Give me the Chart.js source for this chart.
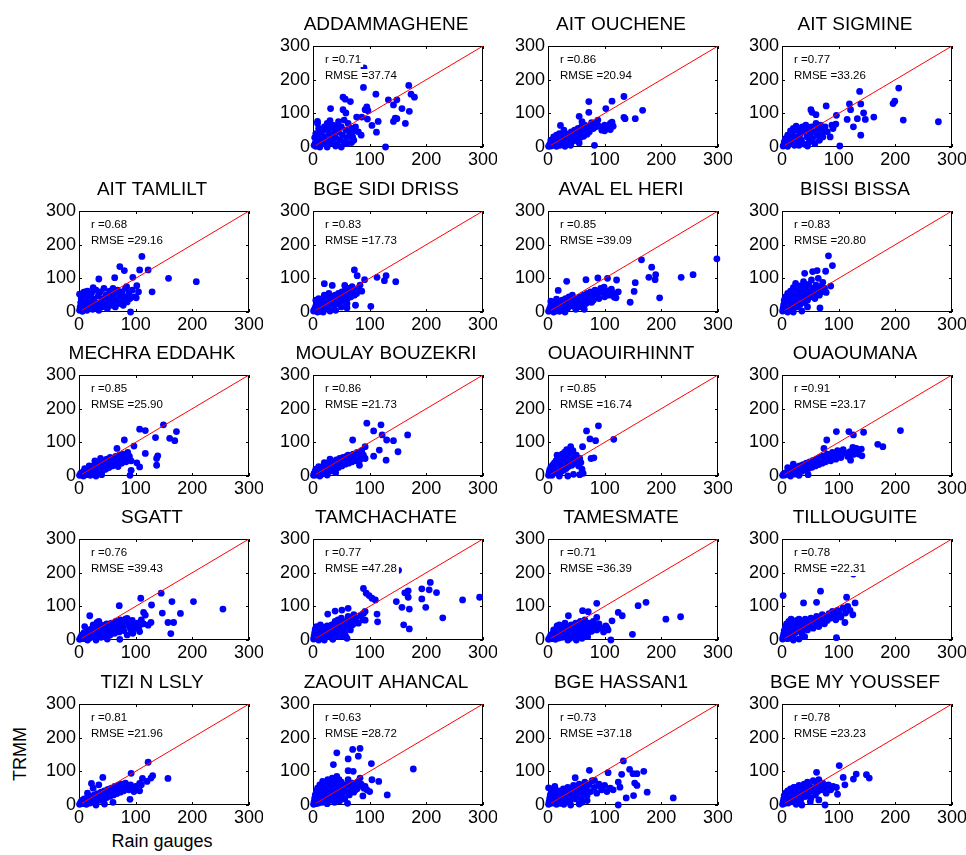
<!DOCTYPE html>
<html>
<head>
<meta charset="utf-8">
<title>TRMM vs rain gauges</title>
<script src="https://cdn.jsdelivr.net/npm/chart.js@4.4.1/dist/chart.umd.min.js"></script>
<style>
  body { margin: 0; background: #fff; width: 966px; height: 855px; position: relative; overflow: hidden;
         font-family: "Liberation Sans", Arial, Helvetica, sans-serif; }
  canvas { position: absolute; }
  .axis-title { position: absolute; font-size: 18px; line-height: 20px; color: #000; text-align: center; }
</style>
</head>
<body>
<div class="axis-title" style="left:-30px; top:744px; width:100px; transform:rotate(-90deg);">TRMM</div>
<div class="axis-title" style="left:62px; top:831px; width:200px;">Rain gauges</div>
<script>
// [rain gauge, TRMM] pairs per station
const ADDAMMAGHENE = [[2,5],[4,12],[6,20],[3,28],[8,35],[5,2],[10,8],[12,15],[15,25],[18,10],[20,30],[22,18],[25,5],[28,40],[30,22],[32,12],[35,35],[38,50],[40,28],[42,8],[45,45],[48,20],[50,60],[52,35],[55,15],[58,50],[60,28],[62,70],[65,40],[68,55],[70,30],[35,65],[25,70],[15,45],[10,55],[45,75],[55,80],[30,78],[20,60],[8,70],[72,20],[40,3],[12,0],[25,0],[60,10],[75,60],[80,45],[85,35],[50,0],[18,50],[5,40],[35,20],[28,55],[42,62],
  [90,235],[89,177],[169,183],[173,157],[179,148],[111,157],[53,148],[57,142],[66,135],[133,140],[148,140],[142,125],[31,114],[95,119],[97,108],[92,111],[157,114],[170,106],[145,86],[142,76],[148,84],[163,70],[115,76],[112,44],[128,0],[68,13],[77,89],[86,89],[96,83],[104,64],[71,47],[53,111],[58,101],[8,76]];
const AIT_OUCHENE = [[1,2],[3,8],[5,3],[7,12],[9,5],[11,18],[13,8],[15,2],[17,22],[19,12],[21,5],[23,28],[25,15],[27,8],[29,32],[31,20],[33,10],[35,38],[37,25],[39,15],[41,45],[43,30],[45,18],[47,50],[49,35],[51,22],[53,55],[55,40],[57,28],[59,60],[61,45],[63,32],[65,65],[67,50],[69,38],[71,58],[73,45],[20,40],[28,50],[10,30],[5,20],[15,35],[40,5],[30,2],[55,12],[75,65],[80,55],[85,70],[90,62],[95,50],[100,65],[105,58],[110,70],[115,62],[100,48],[88,80],[60,75],
  [134,150],[113,136],[72,135],[72,103],[102,114],[167,109],[134,88],[154,84],[136,84],[113,74],[110,52],[82,5],[55,91],[77,72],[84,60],[22,64]];
const AIT_SIGMINE = [[2,3],[4,15],[6,25],[8,8],[10,2],[12,18],[14,30],[16,10],[18,40],[20,22],[22,5],[24,50],[26,30],[28,15],[30,55],[32,38],[34,20],[36,60],[38,45],[40,8],[42,65],[44,30],[46,50],[48,15],[50,40],[52,60],[54,25],[56,45],[58,10],[60,70],[62,35],[64,55],[66,20],[68,65],[70,40],[72,30],[74,50],[76,60],[80,45],[85,30],[88,65],[90,55],[95,68],[30,5],[20,55],[10,35],[45,3],[35,12],[25,62],[15,48],[5,8],
  [137,165],[206,175],[199,136],[196,129],[78,122],[119,128],[121,111],[139,128],[144,101],[147,82],[162,89],[115,82],[133,84],[126,60],[139,35],[102,3],[214,80],[276,75],[51,111],[53,103],[60,96],[96,94],[91,64]];
const AIT_TAMLILT = [[1,5],[2,15],[3,28],[4,40],[5,50],[6,2],[8,10],[10,22],[12,35],[14,5],[16,45],[18,15],[20,28],[22,55],[24,8],[26,38],[28,20],[30,65],[32,10],[34,48],[36,28],[38,60],[40,15],[42,40],[44,70],[46,25],[48,50],[50,10],[52,35],[54,62],[56,20],[58,45],[60,30],[62,55],[64,15],[66,40],[68,65],[70,25],[72,50],[74,35],[76,60],[78,20],[80,45],[82,70],[85,30],[88,55],[90,40],[94,65],[98,45],[102,78],[105,60],[15,62],[8,58],[25,72],[35,5],
  [111,165],[72,135],[80,123],[35,98],[63,102],[95,103],[107,125],[122,125],[158,100],[207,90],[129,60],[101,42],[91,0],[60,70],[84,75],[10,60],[1,53]];
const BGE_SIDI_DRISS = [[1,3],[3,10],[5,18],[7,5],[9,25],[11,12],[13,2],[15,30],[17,18],[19,8],[21,35],[23,22],[25,12],[27,40],[29,28],[31,15],[33,45],[35,32],[37,20],[39,50],[41,38],[43,25],[45,55],[47,42],[49,30],[51,60],[53,45],[55,35],[57,65],[59,50],[61,40],[63,70],[65,55],[67,45],[69,75],[71,60],[73,50],[75,65],[77,55],[80,70],[83,80],[86,62],[10,40],[20,50],[28,55],[5,35],[40,5],[30,3],[50,15],[60,25],[18,0],[8,0],
  [73,125],[78,108],[113,103],[129,108],[126,93],[146,90],[91,96],[34,79],[56,79],[75,20],[102,17],[60,12],[20,84]];
const AVAL_EL_HERI = [[1,2],[3,10],[5,20],[7,5],[9,28],[11,12],[13,3],[15,22],[17,8],[19,30],[21,15],[23,5],[25,35],[27,20],[29,10],[31,40],[33,25],[35,12],[37,45],[39,30],[41,18],[43,50],[45,35],[47,22],[49,8],[51,40],[53,28],[55,15],[57,45],[59,32],[61,20],[63,50],[65,38],[67,25],[69,55],[71,42],[73,30],[75,60],[78,48],[80,35],[83,65],[86,52],[90,40],[93,70],[96,58],[100,45],[104,62],[108,50],[112,68],[116,55],[120,42],[124,60],[10,0],[20,2],[30,0],[5,32],[15,38],
  [298,158],[165,155],[183,133],[190,111],[189,96],[178,103],[235,103],[256,111],[197,42],[154,87],[152,61],[145,29],[121,95],[105,100],[88,101],[67,96],[33,91],[18,64],[99,74],[110,64],[117,44],[88,54],[77,29],[64,8]];
const BISSI_BISSA = [[1,3],[2,12],[3,22],[4,35],[5,5],[6,45],[8,15],[9,28],[10,55],[11,8],[12,40],[14,20],[15,62],[16,32],[18,10],[19,50],[20,72],[22,25],[23,42],[24,85],[26,15],[27,58],[28,35],[30,68],[31,48],[32,22],[34,78],[35,55],[36,40],[38,90],[39,62],[40,28],[42,72],[44,50],[45,35],[47,82],[48,60],[50,45],[52,95],[54,70],[56,55],[58,40],[60,80],[62,65],[64,100],[66,50],[68,75],[70,60],[72,88],[75,70],[78,58],[20,0],[10,0],[35,3],[45,15],
  [82,167],[89,138],[77,121],[62,123],[54,120],[40,115],[86,77],[67,12]];
const MECHRA_EDDAHK = [[1,2],[3,8],[5,3],[7,12],[9,6],[11,16],[13,4],[15,20],[17,10],[19,25],[21,14],[23,5],[25,30],[27,18],[29,8],[31,35],[33,22],[35,12],[37,40],[39,28],[41,15],[43,45],[45,32],[47,20],[49,50],[51,38],[53,25],[55,55],[57,42],[59,30],[61,48],[63,35],[65,58],[67,45],[69,28],[71,62],[73,50],[75,38],[78,65],[80,55],[83,42],[86,70],[89,58],[92,45],[10,22],[18,30],[28,45],[38,52],[20,2],[30,0],[8,0],
  [149,152],[107,139],[117,135],[172,132],[160,112],[169,105],[135,114],[80,107],[97,89],[67,82],[117,67],[139,60],[137,52],[137,32],[107,27],[92,17],[102,39],[90,2],[40,4]];
const MOULAY_BOUZEKRI = [[1,2],[2,8],[4,14],[5,3],[7,18],[9,8],[11,22],[13,12],[15,5],[17,28],[19,16],[21,8],[23,32],[25,20],[27,12],[29,38],[31,25],[33,15],[35,42],[37,30],[39,20],[41,48],[43,35],[45,25],[47,52],[49,40],[51,30],[53,55],[55,45],[57,35],[59,58],[61,48],[63,38],[65,60],[67,52],[69,42],[71,65],[73,55],[75,45],[78,70],[80,58],[83,48],[86,75],[89,62],[92,52],[10,28],[20,40],[30,50],[5,20],[40,10],[25,3],[12,0],
  [95,157],[120,152],[107,134],[167,122],[122,122],[130,107],[142,105],[70,107],[92,87],[117,77],[150,72],[107,59],[129,47],[82,32],[62,62]];
const OUAOUIRHINNT = [[1,2],[2,10],[3,18],[4,4],[5,26],[6,12],[7,2],[8,32],[9,18],[10,8],[11,38],[12,24],[13,12],[14,45],[15,30],[16,16],[17,52],[18,36],[19,22],[20,8],[21,58],[22,42],[23,28],[24,14],[25,65],[26,48],[27,32],[28,18],[29,70],[30,55],[31,38],[32,22],[33,78],[34,60],[35,42],[36,28],[38,68],[40,48],[42,32],[44,75],[46,55],[48,38],[50,62],[52,45],[54,30],[56,52],[58,40],[60,20],[62,8],[45,5],[35,0],[20,0],
  [89,149],[68,134],[74,110],[116,109],[40,87],[61,87],[76,52],[81,54],[16,62],[56,4],[84,105]];
const OUAOUMANA = [[1,2],[3,6],[5,3],[7,10],[9,5],[11,14],[13,8],[15,18],[17,10],[19,22],[21,14],[23,6],[25,26],[27,18],[29,10],[31,30],[33,22],[35,14],[37,34],[39,26],[41,18],[43,38],[45,30],[47,22],[49,42],[51,34],[53,26],[55,46],[57,38],[59,30],[61,50],[63,42],[65,34],[67,55],[69,46],[71,38],[73,60],[75,50],[77,42],[80,65],[83,55],[86,45],[89,70],[92,60],[95,50],[98,75],[101,65],[104,55],[108,78],[112,68],[116,58],[120,72],[125,85],[130,75],[135,65],[140,80],[10,25],[20,35],[15,0],[30,2],
  [209,135],[96,132],[118,132],[144,130],[126,122],[79,107],[74,82],[169,94],[178,87],[131,82],[141,60],[126,64],[106,72],[86,52],[121,47],[46,4]];
const SGATT = [[1,2],[3,8],[5,15],[7,4],[9,22],[11,10],[13,3],[15,28],[17,15],[19,6],[21,32],[23,20],[25,10],[27,36],[29,24],[31,14],[33,40],[35,28],[37,18],[39,8],[41,44],[43,32],[45,22],[47,12],[49,48],[51,36],[53,26],[55,15],[57,50],[59,40],[61,30],[63,20],[65,55],[67,44],[69,34],[71,24],[73,60],[75,48],[77,38],[79,28],[82,62],[85,52],[88,42],[91,32],[94,58],[97,45],[100,35],[103,50],[106,40],[110,60],[114,48],[25,45],[35,55],[10,40],[50,3],[30,0],[15,0],[85,15],[95,20],
  [145,139],[109,124],[202,114],[164,114],[254,92],[128,104],[71,102],[114,82],[117,74],[147,80],[179,79],[157,52],[167,52],[162,19],[127,52],[122,44],[107,25],[85,64],[19,72],[32,52],[72,2]];
const TAMCHACHATE = [[1,3],[2,12],[3,22],[4,32],[5,5],[6,40],[8,15],[9,25],[10,35],[12,8],[13,45],[14,18],[16,28],[17,38],[18,5],[20,22],[22,32],[23,12],[25,42],[27,25],[28,15],[30,35],[32,8],[33,45],[35,28],[37,18],[39,55],[40,38],[42,25],[44,60],[46,45],[48,30],[50,65],[52,50],[54,35],[56,20],[58,55],[60,40],[62,70],[64,48],[66,30],[68,60],[70,45],[72,75],[74,55],[76,65],[80,50],[84,72],[88,60],[92,85],[60,5],[50,12],[20,0],[10,0],[35,2],
  [151,207],[89,153],[94,139],[104,124],[110,119],[99,132],[162,140],[168,146],[168,127],[192,152],[207,171],[205,149],[218,141],[192,122],[199,97],[147,114],[157,97],[170,92],[160,45],[170,33],[229,66],[264,119],[294,127],[39,86],[26,77],[113,77],[114,54],[62,94],[51,89],[92,59],[89,79],[45,10],[58,10]];
const TAMESMATE = [[1,2],[3,8],[5,15],[7,4],[9,20],[11,10],[13,2],[15,25],[17,14],[19,6],[21,30],[23,18],[25,8],[27,35],[29,22],[31,12],[33,40],[35,28],[37,16],[39,5],[41,45],[43,32],[45,20],[47,10],[49,50],[51,38],[53,26],[55,14],[57,55],[59,42],[61,30],[63,18],[65,60],[67,46],[69,34],[71,22],[73,50],[75,38],[77,26],[80,55],[83,42],[86,30],[90,48],[94,36],[98,24],[102,42],[106,30],[20,45],[10,30],[30,50],[50,0],[35,0],[60,5],[70,10],
  [173,112],[159,102],[86,109],[234,69],[208,62],[124,82],[131,72],[113,57],[104,37],[149,17],[111,0],[61,87],[71,84],[36,72],[16,42],[86,67]];
const TILLOUGUITE = [[1,3],[2,10],[3,18],[4,28],[5,6],[6,38],[7,14],[8,48],[9,22],[10,4],[11,32],[12,55],[13,14],[14,40],[15,24],[16,8],[18,45],[19,30],[20,16],[22,52],[23,36],[24,22],[26,58],[27,42],[28,28],[30,62],[32,46],[33,32],[35,20],[37,50],[39,36],[41,62],[43,44],[45,30],[47,55],[49,40],[51,65],[53,48],[55,35],[57,60],[59,45],[61,70],[63,55],[65,40],[67,65],[69,50],[71,75],[73,60],[75,48],[78,70],[80,58],[83,78],[86,65],[89,85],[92,72],[95,60],[98,88],[101,78],[104,68],[108,95],[112,80],[116,100],[120,88],[125,75],[40,10],[30,3],[20,0],
  [126,196],[2,132],[68,145],[38,110],[61,112],[114,127],[129,110],[111,52],[96,7],[16,62]];
const TIZI_N_LSLY = [[1,2],[3,8],[5,14],[7,4],[9,18],[11,10],[13,2],[15,22],[17,12],[19,6],[21,26],[23,16],[25,8],[27,30],[29,20],[31,12],[33,34],[35,24],[37,14],[39,38],[41,28],[43,18],[45,42],[47,32],[49,22],[51,46],[53,36],[55,26],[57,50],[59,40],[61,30],[63,55],[65,44],[67,34],[69,58],[71,48],[73,38],[75,62],[77,52],[79,42],[82,65],[85,55],[88,45],[91,60],[94,50],[97,40],[100,55],[104,45],[25,50],[15,35],[35,60],[45,3],[30,0],[60,8],
  [122,127],[92,94],[130,87],[112,79],[157,79],[42,82],[107,64],[110,60],[90,17],[22,64],[107,42],[127,80],[120,70]];
const ZAOUIT_AHANCAL = [[1,2],[2,10],[3,20],[4,30],[5,4],[6,40],[7,14],[8,50],[9,24],[10,6],[11,35],[12,60],[13,16],[14,45],[15,28],[16,8],[17,70],[18,38],[19,20],[20,55],[21,12],[22,65],[23,32],[24,46],[25,4],[26,75],[27,24],[28,58],[29,40],[30,14],[31,68],[32,50],[33,30],[34,80],[35,20],[36,60],[37,42],[38,8],[39,72],[40,52],[41,34],[42,85],[43,62],[44,22],[45,45],[46,75],[47,12],[48,55],[49,35],[50,68],[52,28],[54,48],[56,18],[58,60],[60,40],[62,75],[64,30],[66,55],[68,45],[70,65],[72,38],[75,55],[78,48],[80,70],[85,58],[90,50],[95,45],
  [42,155],[70,165],[83,168],[80,145],[62,137],[36,120],[103,123],[62,102],[71,100],[177,107],[104,75],[116,70],[131,30],[88,27],[92,55],[61,5],[83,80],[85,62],[75,45],[100,40]];
const BGE_HASSAN1 = [[1,2],[2,10],[3,20],[4,30],[5,5],[6,40],[8,14],[9,25],[10,48],[11,6],[13,18],[14,35],[15,2],[17,28],[18,12],[19,42],[21,22],[22,5],[24,34],[25,15],[27,48],[28,25],[30,8],[32,38],[33,20],[35,52],[37,30],[39,12],[41,45],[43,25],[45,58],[47,38],[49,18],[51,50],[53,30],[55,62],[57,42],[59,22],[61,55],[63,35],[65,68],[67,48],[69,28],[72,60],[75,40],[78,72],[82,52],[86,35],[90,62],[95,45],[100,58],[104,40],[110,50],[115,45],[40,0],[28,2],[60,8],[12,55],
  [133,131],[73,103],[48,81],[106,96],[144,106],[150,93],[157,93],[169,100],[130,91],[124,68],[127,53],[153,65],[157,58],[175,38],[151,28],[138,21],[221,21],[124,0],[69,13],[55,3],[1,51],[8,48],[92,55],[82,73]];
const BGE_MY_YOUSSEF = [[1,2],[2,10],[3,18],[4,28],[5,5],[6,35],[8,14],[9,24],[10,42],[11,6],[13,20],[14,32],[15,48],[17,12],[18,28],[19,40],[21,18],[22,52],[23,8],[25,35],[26,22],[28,45],[30,58],[31,30],[33,15],[35,50],[37,38],[39,62],[41,25],[43,48],[45,68],[47,35],[49,55],[51,20],[53,42],[55,72],[57,50],[59,30],[61,60],[63,40],[65,75],[67,55],[69,45],[72,65],[75,50],[78,35],[82,60],[86,45],[90,55],[35,0],[25,2],[50,10],[65,15],
  [101,117],[61,97],[131,92],[149,90],[154,80],[108,82],[111,60],[98,32],[76,0],[21,52],[96,52],[126,77]];

const stationNames = ['ADDAMMAGHENE', 'AIT OUCHENE', 'AIT SIGMINE', 'AIT TAMLILT', 'BGE SIDI DRISS', 'AVAL EL HERI', 'BISSI BISSA',
  'MECHRA EDDAHK', 'MOULAY BOUZEKRI', 'OUAOUIRHINNT', 'OUAOUMANA', 'SGATT', 'TAMCHACHATE', 'TAMESMATE', 'TILLOUGUITE',
  'TIZI N LSLY', 'ZAOUIT AHANCAL', 'BGE HASSAN1', 'BGE MY YOUSSEF'];
const stationPoints = [ADDAMMAGHENE, AIT_OUCHENE, AIT_SIGMINE, AIT_TAMLILT, BGE_SIDI_DRISS, AVAL_EL_HERI, BISSI_BISSA,
  MECHRA_EDDAHK, MOULAY_BOUZEKRI, OUAOUIRHINNT, OUAOUMANA, SGATT, TAMCHACHATE, TAMESMATE, TILLOUGUITE,
  TIZI_N_LSLY, ZAOUIT_AHANCAL, BGE_HASSAN1, BGE_MY_YOUSSEF];
const rValues = ['0.71', '0.86', '0.77', '0.68', '0.83', '0.85', '0.83', '0.85', '0.86', '0.85', '0.91',
  '0.76', '0.77', '0.71', '0.78', '0.81', '0.63', '0.73', '0.78'];
const rmseValues = ['37.74', '20.94', '33.26', '29.16', '17.73', '39.09', '20.80', '25.90', '21.73', '16.74', '23.17',
  '39.43', '47.28', '36.39', '22.31', '21.96', '28.72', '37.18', '23.23'];
const axisTicks = [0, 100, 200, 300];
const oneToOne = [[5, 5], [300, 300]];

// subplot grid: first cell of the top row is left empty
const colLeft = [79, 313, 548, 782];
const rowTop = [46, 211, 375, 539, 704];
const PLOT_W = 170, PLOT_H = 101, PAD_L = 50, PAD_T = 34, PAD_R = 14, PAD_B = 30;
const FONT = '"Liberation Sans", Arial, Helvetica, sans-serif';

// axes box, inward ticks on all four sides, title, and the r / RMSE labels
const framePlugin = {
  id: 'frame',
  beforeDatasetsDraw(chart, args, opts) {
    const { ctx, chartArea: a, scales: { x, y } } = chart;
    ctx.save();
    ctx.strokeStyle = '#000';
    ctx.lineWidth = 1;
    ctx.strokeRect(a.left + 0.5, a.top + 0.5, a.width - 1, a.height - 1);
    ctx.beginPath();
    axisTicks.forEach(t => {
      const px = Math.round(x.getPixelForValue(t)) + 0.5;
      const py = Math.round(y.getPixelForValue(t)) + 0.5;
      ctx.moveTo(px, a.bottom); ctx.lineTo(px, a.bottom - 3);
      ctx.moveTo(px, a.top); ctx.lineTo(px, a.top + 3);
      ctx.moveTo(a.left, py); ctx.lineTo(a.left + 3, py);
      ctx.moveTo(a.right, py); ctx.lineTo(a.right - 3, py);
    });
    ctx.stroke();
    // titles sit slightly left of the box centre
    ctx.fillStyle = '#000';
    ctx.font = '19px ' + FONT;
    ctx.textAlign = 'center';
    ctx.textBaseline = 'alphabetic';
    ctx.fillText(opts.title, (a.left + a.right) / 2 - 12, a.top - 16);
    ctx.restore();
  },
  afterDatasetsDraw(chart, args, opts) {
    const { ctx, chartArea: a } = chart;
    ctx.save();
    ctx.font = '11.5px ' + FONT;
    ctx.textBaseline = 'middle';
    ctx.textAlign = 'left';
    [['r =' + opts.r, 14], ['RMSE =' + opts.rmse, 30]].forEach(([txt, dy]) => {
      const tx = a.left + 12, ty = a.top + dy;
      const w = ctx.measureText(txt).width;
      ctx.fillStyle = '#fff';
      ctx.fillRect(tx - 2, ty - 7, w + 4, 14);
      ctx.fillStyle = '#000';
      ctx.fillText(txt, tx, ty);
    });
    ctx.restore();
  }
};

function axisOptions(side) {
  return {
    type: 'linear',
    position: side,
    min: 0,
    max: 300,
    grid: { display: false, drawTicks: false },
    border: { display: false },
    ticks: { stepSize: 100, color: '#000', padding: side === 'left' ? 3 : 2, font: { size: 18, family: FONT }, maxRotation: 0 },
    afterFit(scale) {
      if (side === 'left') scale.width = PAD_L; else scale.height = PAD_B;
      scale.paddingLeft = scale.paddingRight = scale.paddingTop = scale.paddingBottom = 0;
    }
  };
}

stationNames.forEach((name, i) => {
  const slot = i + 1;
  const row = Math.floor(slot / 4), col = slot % 4;
  const canvas = document.createElement('canvas');
  canvas.width = PAD_L + PLOT_W + PAD_R;
  canvas.height = PAD_T + PLOT_H + PAD_B;
  canvas.style.left = (colLeft[col] - PAD_L) + 'px';
  canvas.style.top = (rowTop[row] - PAD_T) + 'px';
  document.body.appendChild(canvas);

  new Chart(canvas, {
    type: 'scatter',
    data: {
      datasets: [
        {
          data: stationPoints[i].map(([g, t]) => ({ x: g, y: t })),
          backgroundColor: '#0000ff',
          borderWidth: 0,
          pointRadius: 3.4,
          pointHoverRadius: 3.4,
          clip: false,
          order: 1
        },
        {
          data: oneToOne.map(([g, t]) => ({ x: g, y: t })),
          showLine: true,
          borderColor: '#ff0000',
          borderWidth: 1,
          pointRadius: 0,
          order: 0
        }
      ]
    },
    options: {
      responsive: false,
      animation: false,
      layout: { padding: { left: 0, top: PAD_T, right: PAD_R, bottom: 0 } },
      scales: { x: axisOptions('bottom'), y: axisOptions('left') },
      plugins: {
        legend: { display: false },
        tooltip: { enabled: false },
        frame: { title: name, r: rValues[i], rmse: rmseValues[i] }
      }
    },
    plugins: [framePlugin]
  });
});
</script>
</body>
</html>
